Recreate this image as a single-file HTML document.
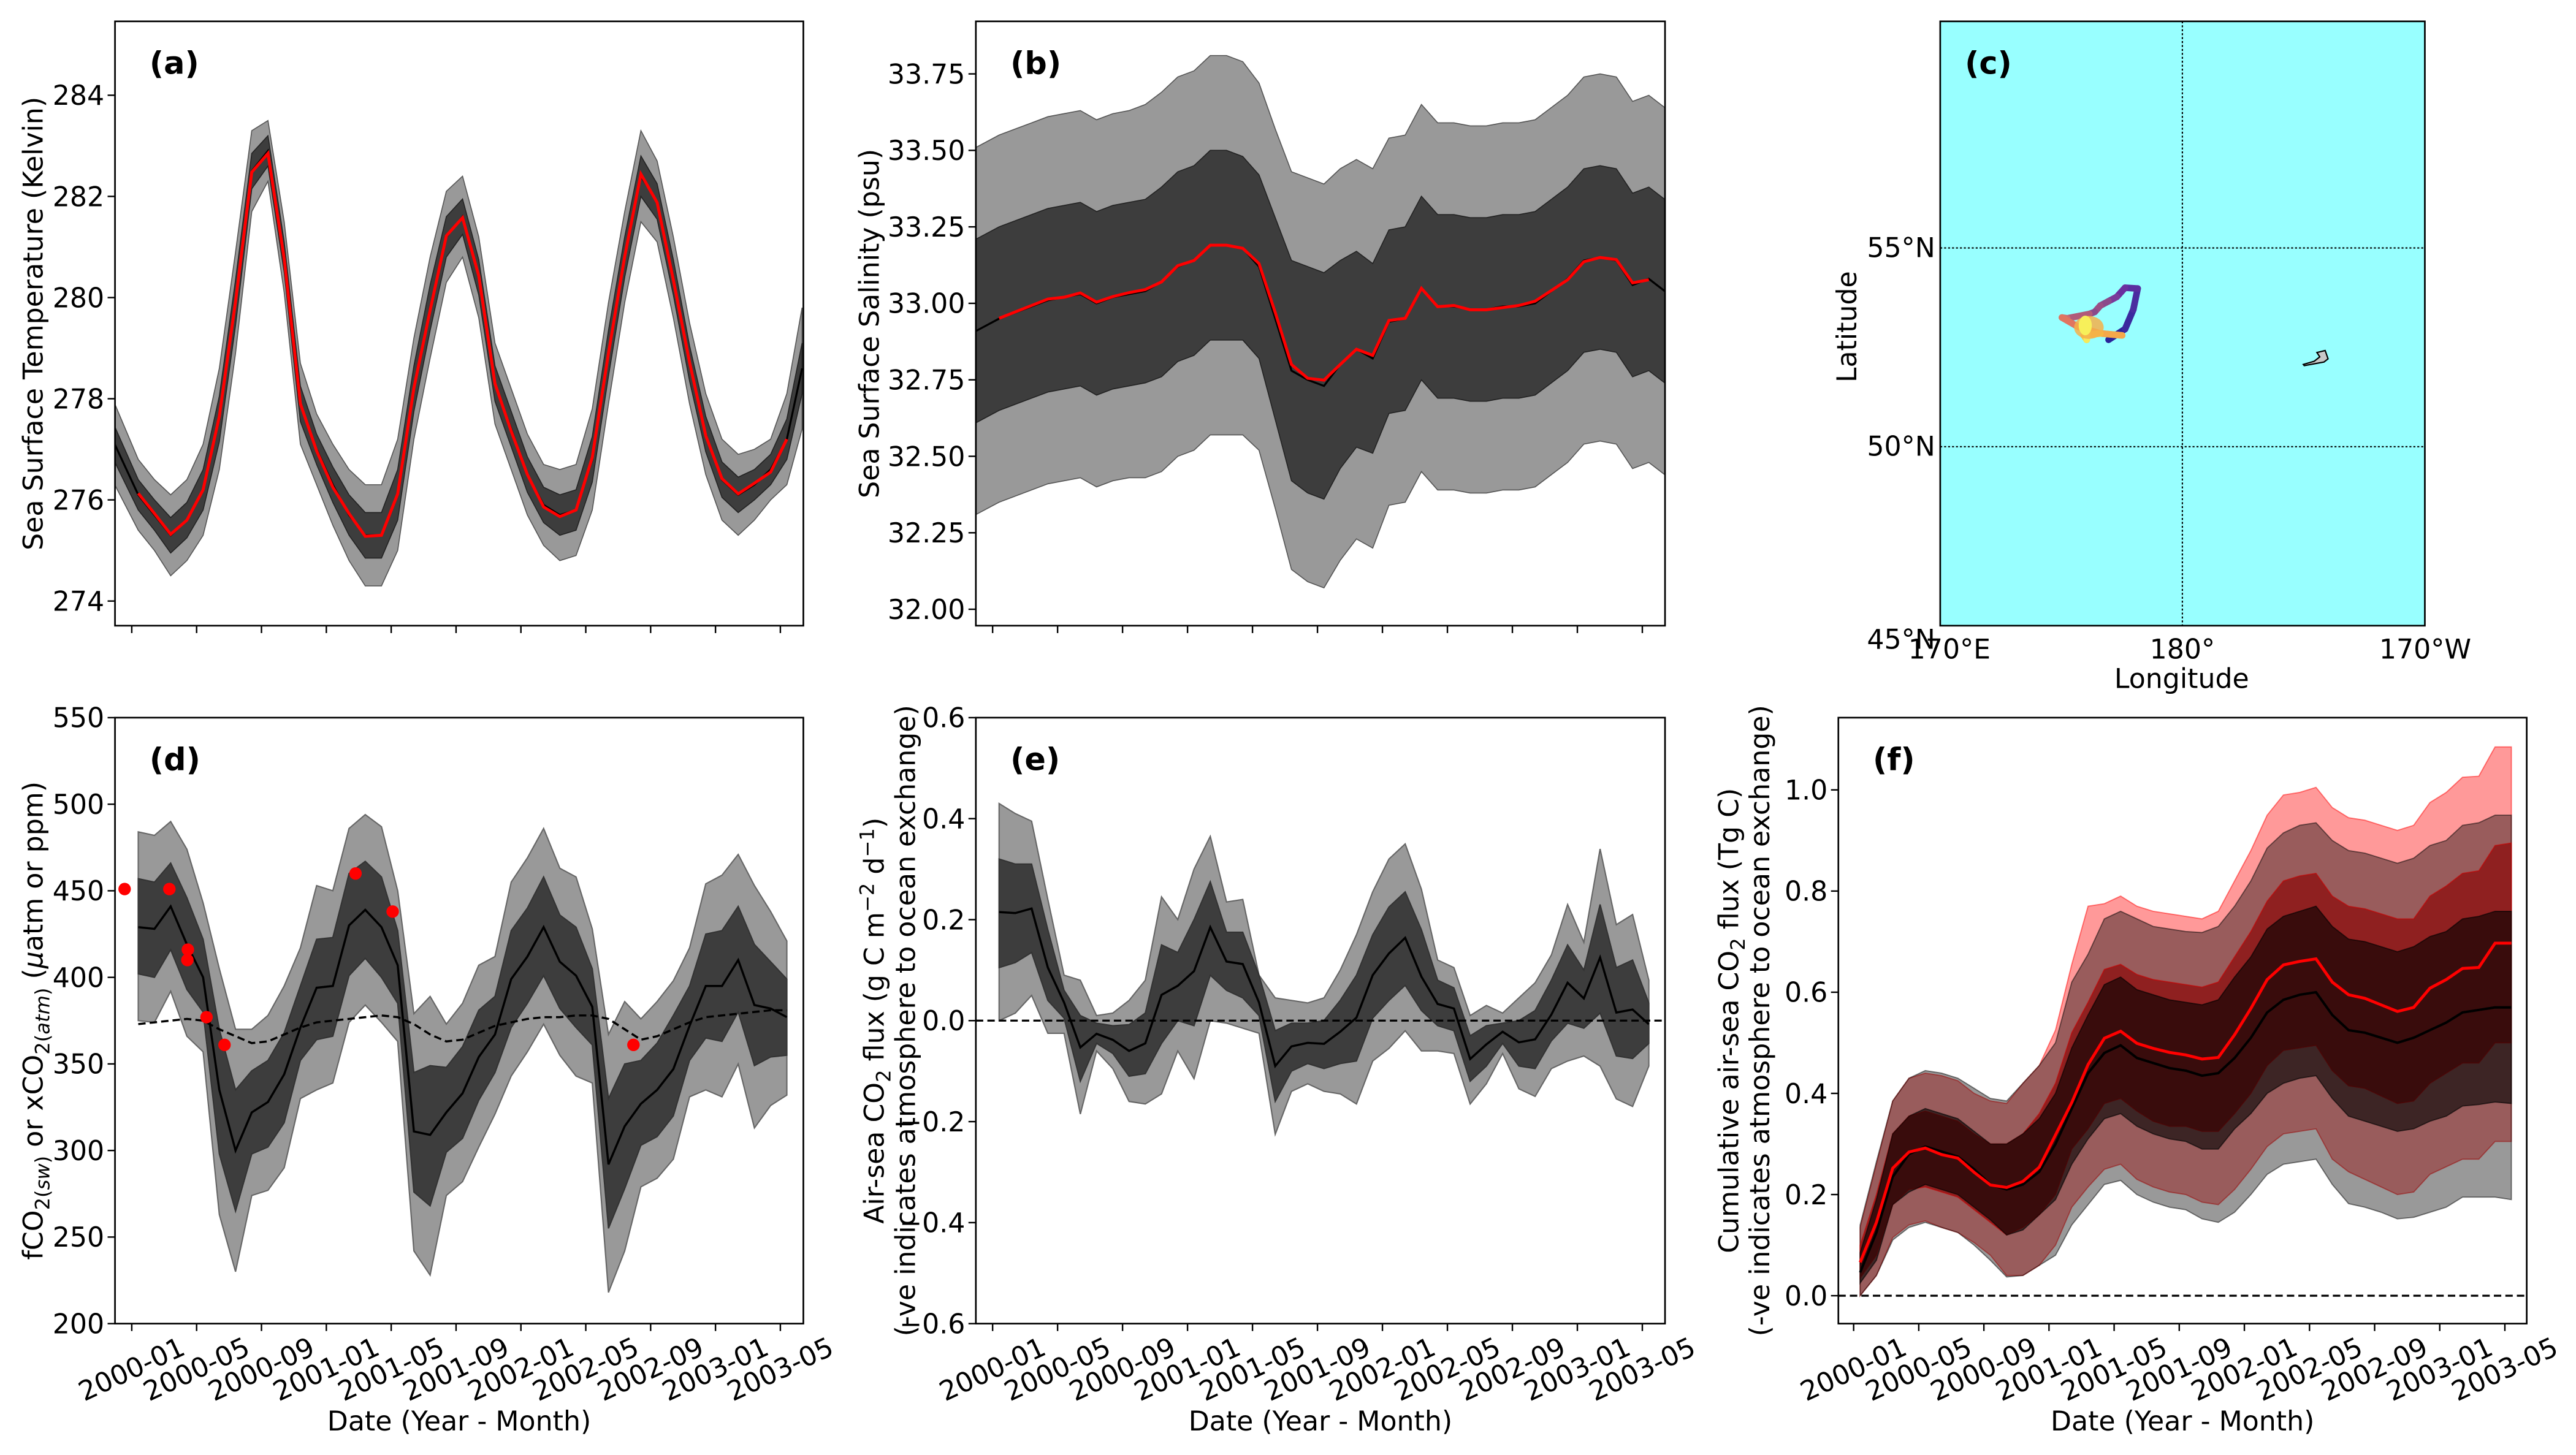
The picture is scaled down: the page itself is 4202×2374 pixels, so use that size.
<!DOCTYPE html>
<html><head><meta charset="utf-8">
<style>
html,body{margin:0;padding:0;background:#fff;}
svg{display:block;}
text{font-family:"DejaVu Sans","Liberation Sans",sans-serif;fill:#000;}
</style></head>
<body>
<svg id="fig" xmlns="http://www.w3.org/2000/svg" width="4202" height="2374" viewBox="0 0 1568 886" preserveAspectRatio="none">
<rect x="0" y="0" width="1568" height="886" fill="#fff"/>
</svg>
<script>
// ---------- DATA ----------
const monthLabels = ["2000-01","2000-05","2000-09","2001-01","2001-05","2001-09","2002-01","2002-05","2002-09","2003-01","2003-05"];
const monthTicks = [0,4,8,12,16,20,24,28,32,36,40];
// panel (a) SST
const sstMonths = [-1.45,0,1,2,3,4,5,6,7,8,9,10,11,12,13,14,15,16,17,18,19,20,21,22,23,24,25,26,27,28,29,30,31,32,33,34,35,36,37,38,39,40,40.94];
const sstCenter = [277.1,276.1,275.7,275.3,275.6,276.2,277.6,279.9,282.5,282.9,280.8,277.9,277.0,276.3,275.7,275.3,275.3,276.1,278.2,279.8,281.2,281.6,280.4,278.3,277.4,276.5,275.9,275.7,275.8,276.8,278.9,280.8,282.4,281.9,280.4,278.7,277.3,276.4,276.1,276.3,276.6,277.2,278.6];
const sstLightHalf = [0.8,0.7,0.7,0.8,0.8,0.9,1.0,1.0,0.8,0.6,0.7,0.8,0.7,0.8,0.9,1.0,1.0,1.1,1.0,1.0,0.9,0.8,0.8,0.8,0.8,0.8,0.8,0.9,0.9,1.0,1.0,0.9,0.9,0.8,0.8,0.8,0.8,0.8,0.8,0.7,0.6,0.9,1.2];
const sstDarkHalf = [0.35,0.3,0.3,0.35,0.35,0.4,0.45,0.45,0.35,0.3,0.3,0.35,0.3,0.35,0.4,0.45,0.45,0.5,0.45,0.45,0.4,0.35,0.35,0.35,0.35,0.35,0.35,0.4,0.4,0.45,0.45,0.4,0.4,0.35,0.35,0.35,0.35,0.35,0.35,0.3,0.3,0.4,0.5];
const sstRed = [276.13,275.73,275.32,275.6,276.2,277.65,279.92,282.48,282.85,280.77,277.9,276.97,276.25,275.73,275.28,275.3,276.12,278.21,279.75,281.22,281.58,280.43,278.3,277.36,276.5,275.86,275.67,275.8,276.84,278.9,280.81,282.44,281.88,280.35,278.72,277.27,276.42,276.12,276.33,276.55,277.2];
// panel (b) SSS
const sssMonths = [-1.41,0,1,2,3,4,5,6,7,8,9,10,11,12,13,14,15,16,17,18,19,20,21,22,23,24,25,26,27,28,29,30,31,32,33,34,35,36,37,38,39,40,40.98];
const sssCenter = [32.91,32.95,32.97,32.99,33.01,33.02,33.03,33.0,33.02,33.03,33.04,33.07,33.12,33.14,33.19,33.19,33.18,33.12,32.95,32.78,32.75,32.73,32.8,32.85,32.82,32.94,32.95,33.05,32.99,32.99,32.98,32.98,32.99,32.99,33.0,33.04,33.08,33.14,33.15,33.14,33.06,33.08,33.04];
const sssLightHalf = [0.6,0.6,0.6,0.6,0.6,0.6,0.6,0.6,0.6,0.6,0.61,0.62,0.62,0.62,0.62,0.62,0.61,0.6,0.62,0.65,0.66,0.66,0.64,0.62,0.62,0.6,0.6,0.6,0.6,0.6,0.6,0.6,0.6,0.6,0.6,0.6,0.6,0.6,0.6,0.6,0.6,0.6,0.6];
const sssDarkHalf = [0.3,0.3,0.3,0.3,0.3,0.3,0.3,0.3,0.3,0.3,0.3,0.31,0.31,0.31,0.31,0.31,0.3,0.3,0.33,0.36,0.37,0.37,0.34,0.32,0.31,0.3,0.3,0.3,0.3,0.3,0.3,0.3,0.3,0.3,0.3,0.3,0.3,0.3,0.3,0.3,0.3,0.3,0.3];
const sssRed = [32.951,32.972,32.993,33.014,33.02,33.034,33.004,33.022,33.035,33.045,33.07,33.123,33.14,33.19,33.19,33.18,33.13,32.97,32.80,32.755,32.749,32.80,32.85,32.83,32.944,32.951,33.049,32.989,32.993,32.979,32.979,32.986,32.993,33.007,33.042,33.077,33.136,33.15,33.143,33.067,33.077];
// panel (d) fCO2
const fco2Mid = [429,428,441,419,400,335,300,322,328,344,371,394,395,430,439,429,407,311,309,322,333,354,367,399,412,429,409,401,383,292,314,327,335,347,372,395,395,410,384,382,377];
const fco2DarkUp = [457,455,466,446,422,370,335,346,352,368,395,422,423,460,467,458,427,345,349,348,360,381,389,427,440,458,436,429,405,330,350,352,362,378,395,425,427,441,419,409,399];
const fco2DarkLo = [402,400,416,393,380,298,265,298,302,316,352,364,366,401,411,400,385,276,268,299,307,329,345,371,385,401,382,371,361,255,278,303,308,320,352,365,363,380,349,354,355];
const fco2LightUp = [484,482,490,474,443,405,370,370,378,395,417,453,450,486,494,487,450,379,389,373,385,407,412,455,469,486,463,458,428,367,386,376,386,398,417,454,459,471,453,438,421];
const fco2LightLo = [375,374,392,366,357,263,230,274,277,290,330,335,339,374,384,374,363,242,228,274,282,302,321,343,357,373,355,343,339,218,242,279,284,295,331,335,331,350,313,326,332];
const xco2Atm = [373,374,375,376,375,370,366,362,363,367,371,374,375,376,377,378,377,373,367,363,364,368,372,374,376,377,377,378,378,376,370,364,366,370,374,377,378,379,380,381,381];
const obsMonth = [-0.84,1.92,3.06,3.03,4.21,5.32,13.4,15.69,30.54];
const obsValue = [451,451,416,410,377,361,460,438,361];
// panel (e) flux
const fluxMid = [0.215,0.213,0.222,0.105,0.036,-0.053,-0.026,-0.038,-0.06,-0.045,0.051,0.069,0.098,0.185,0.117,0.112,0.036,-0.09,-0.051,-0.044,-0.046,-0.022,0.006,0.09,0.133,0.164,0.087,0.033,0.024,-0.076,-0.047,-0.022,-0.043,-0.037,0.012,0.075,0.044,0.125,0.016,0.022,-0.007];
const fluxDarkUp = [0.32,0.31,0.31,0.18,0.06,0.01,-0.005,-0.01,-0.008,0.015,0.15,0.135,0.2,0.275,0.175,0.175,0.09,-0.02,-0.005,-0.005,0,0.04,0.09,0.17,0.225,0.255,0.18,0.08,0.065,-0.03,-0.01,-0.005,0.0,0.02,0.08,0.15,0.1,0.23,0.105,0.12,0.035];
const fluxDarkLo = [0.105,0.115,0.135,0.04,0.005,-0.12,-0.045,-0.065,-0.11,-0.105,-0.045,0.0,-0.01,0.09,0.06,0.045,0.01,-0.16,-0.1,-0.085,-0.095,-0.085,-0.08,0.005,0.04,0.07,0.02,-0.01,-0.02,-0.12,-0.09,-0.045,-0.09,-0.095,-0.04,-0.005,-0.015,0.015,-0.07,-0.075,-0.045];
const fluxLightUp = [0.43,0.41,0.395,0.24,0.09,0.08,0.01,0.015,0.04,0.08,0.245,0.2,0.3,0.365,0.235,0.24,0.09,0.045,0.04,0.035,0.045,0.1,0.17,0.255,0.32,0.35,0.26,0.12,0.105,0.01,0.03,0.015,0.045,0.075,0.13,0.23,0.155,0.34,0.19,0.21,0.08];
const fluxLightLo = [0.0,0.015,0.05,-0.025,-0.025,-0.185,-0.06,-0.095,-0.16,-0.165,-0.145,-0.06,-0.115,0.0,-0.005,-0.015,-0.025,-0.225,-0.14,-0.125,-0.14,-0.145,-0.165,-0.08,-0.055,-0.02,-0.06,-0.06,-0.065,-0.165,-0.125,-0.065,-0.135,-0.15,-0.095,-0.08,-0.07,-0.09,-0.155,-0.17,-0.09];
// panel (f) cumulative flux
const cumRedMid = [0.066,0.145,0.252,0.284,0.292,0.279,0.272,0.244,0.219,0.214,0.226,0.254,0.318,0.382,0.457,0.509,0.523,0.499,0.489,0.481,0.476,0.468,0.471,0.516,0.568,0.625,0.654,0.661,0.666,0.620,0.595,0.588,0.575,0.562,0.570,0.608,0.625,0.647,0.649,0.697,0.697];
const cumBlackMid = [0.046,0.125,0.235,0.28,0.295,0.285,0.275,0.25,0.22,0.21,0.22,0.245,0.30,0.37,0.44,0.48,0.495,0.47,0.46,0.45,0.445,0.435,0.44,0.47,0.51,0.56,0.585,0.595,0.60,0.555,0.525,0.52,0.51,0.50,0.51,0.525,0.54,0.56,0.565,0.57,0.57];
const cumRed1Up = [0.10,0.20,0.32,0.355,0.365,0.355,0.345,0.32,0.30,0.30,0.32,0.36,0.42,0.52,0.58,0.645,0.655,0.635,0.625,0.62,0.615,0.61,0.62,0.67,0.72,0.78,0.82,0.83,0.835,0.79,0.77,0.765,0.755,0.745,0.745,0.79,0.81,0.835,0.84,0.89,0.895];
const cumRed1Lo = [0.035,0.08,0.18,0.21,0.215,0.205,0.195,0.17,0.145,0.12,0.135,0.16,0.20,0.29,0.33,0.38,0.39,0.365,0.345,0.335,0.335,0.325,0.325,0.36,0.40,0.455,0.485,0.49,0.495,0.445,0.415,0.41,0.395,0.38,0.385,0.42,0.44,0.46,0.46,0.50,0.50];
const cumBlk1Up = [0.085,0.19,0.32,0.355,0.37,0.36,0.35,0.325,0.30,0.30,0.32,0.35,0.40,0.49,0.555,0.615,0.63,0.605,0.595,0.585,0.58,0.575,0.585,0.63,0.67,0.725,0.75,0.76,0.77,0.73,0.705,0.70,0.69,0.68,0.69,0.71,0.72,0.745,0.75,0.76,0.76];
const cumBlk1Lo = [0.025,0.07,0.18,0.205,0.22,0.21,0.20,0.175,0.15,0.12,0.13,0.16,0.19,0.26,0.31,0.35,0.36,0.335,0.32,0.31,0.305,0.29,0.29,0.33,0.36,0.40,0.42,0.43,0.435,0.39,0.355,0.345,0.335,0.325,0.33,0.345,0.355,0.375,0.378,0.383,0.38];
const cumRed2Up = [0.135,0.26,0.385,0.43,0.44,0.435,0.425,0.40,0.385,0.38,0.42,0.455,0.525,0.655,0.77,0.775,0.79,0.77,0.76,0.755,0.75,0.745,0.76,0.82,0.88,0.95,0.99,0.995,1.005,0.965,0.945,0.94,0.93,0.92,0.93,0.975,0.995,1.025,1.027,1.085,1.085];
const cumRed2Lo = [0.0,0.04,0.115,0.14,0.148,0.135,0.125,0.105,0.08,0.04,0.04,0.06,0.10,0.175,0.215,0.25,0.26,0.23,0.215,0.205,0.20,0.185,0.18,0.21,0.25,0.295,0.32,0.325,0.33,0.27,0.245,0.23,0.215,0.20,0.205,0.24,0.255,0.27,0.27,0.305,0.305];
const cumBlk2Up = [0.14,0.265,0.385,0.43,0.445,0.44,0.43,0.41,0.39,0.385,0.42,0.455,0.50,0.62,0.675,0.745,0.76,0.745,0.73,0.725,0.72,0.718,0.73,0.77,0.82,0.885,0.915,0.93,0.935,0.90,0.88,0.875,0.865,0.855,0.865,0.89,0.90,0.93,0.935,0.95,0.95];
const cumBlk2Lo = [0.0,0.04,0.11,0.135,0.145,0.135,0.125,0.10,0.07,0.037,0.04,0.06,0.08,0.14,0.18,0.22,0.228,0.20,0.185,0.175,0.17,0.152,0.145,0.165,0.20,0.24,0.26,0.265,0.27,0.22,0.182,0.175,0.165,0.152,0.155,0.165,0.175,0.195,0.195,0.195,0.19];
// panel (c) map
const trackLon = [176.96,177.64,177.98,178.16,177.64,177.30,176.96,176.62,176.39,176.17,175.26,175.04,175.72,176.62,177.52,176.62,175.94,176.06,176.10,176.06];
const trackLat = [52.69,52.96,53.45,53.98,54.0,53.77,53.66,53.55,53.39,53.34,53.23,53.25,53.01,52.85,52.80,52.85,52.80,52.69,53.2,52.69];
const islandLon = [184.98,185.43,185.66,185.54,185.88,186.0,185.83,185.02];
const islandLat = [52.07,52.15,52.26,52.37,52.42,52.21,52.13,52.04];
const latTicks = [45,50,55];
const lonTicks = [170,180,190];
const lonLabels = ["170°E","180°","170°W"];

// ---------- helpers ----------
const NS = "http://www.w3.org/2000/svg";
const svg = document.getElementById('fig');
function mk(tag, attrs, parent){
  const e = document.createElementNS(NS, tag);
  for (const k in attrs) e.setAttribute(k, attrs[k]);
  (parent||svg).appendChild(e);
  return e;
}
function mkText(str, attrs, parent){ const t = mk('text', attrs, parent); t.textContent = str; return t; }
function ptsStr(xs, ys){ return xs.map((x,i)=>x.toFixed(2)+','+ys[i].toFixed(2)).join(' '); }
function bandPts(months, up, lo, X, Y){
  const a = months.map((m,i)=>X(m).toFixed(2)+','+Y(up[i]).toFixed(2));
  const b = months.map((m,i)=>X(m).toFixed(2)+','+Y(lo[i]).toFixed(2)).reverse();
  return a.concat(b).join(' ');
}
const idx41 = fco2Mid.map((_,i)=>i);
const TICK_FS = 16.5, TITLE_FS = 16.5;

function makeAxes(name, x0, x1, y0, y1, tick0, perMonth, yMin, yMax, yPx0, yPx1){
  const g = mk('g', {});
  
  
  const X = m => tick0 + perMonth*m;
  const Y = v => yPx0 + (v - yMin)/(yMax - yMin)*(yPx1 - yPx0);
  return {g, X, Y, x0, x1, y0, y1};
}
function frame(ax){
  const r = mk('rect', {x:ax.x0, y:ax.y0, width:ax.x1-ax.x0, height:ax.y1-ax.y0, fill:'none', stroke:'#000', 'stroke-width':1}, ax.g);
  
  
}
function clip(ax, id){
  const cp = mk('clipPath', {id:id}, ax.g);
  mk('rect', {x:ax.x0, y:ax.y0, width:ax.x1-ax.x0, height:ax.y1-ax.y0}, cp);
  const g = mk('g', {'clip-path':'url(#'+id+')'}, ax.g);
  
  
  return g;
}
function yTicks(ax, vals, fmt){
  vals.forEach(v=>{
    const y = ax.Y(v);
    mk('line', {x1:ax.x0-4.5, x2:ax.x0, y1:y, y2:y, stroke:'#000', 'stroke-width':0.9}, ax.g);
    const t = mkText(fmt(v), {x:ax.x0-6.5, y:y+5.9, 'font-size':TICK_FS, 'text-anchor':'end'}, ax.g);
    
    
  });
}
function xTicks(ax, withLabels){
  monthTicks.forEach((m,i)=>{
    const x = ax.X(m);
    mk('line', {x1:x, x2:x, y1:ax.y1, y2:ax.y1+4.5, stroke:'#000', 'stroke-width':0.9}, ax.g);
    if (withLabels){
      const tx = x, ty = ax.y1+28;
      const t = mkText(monthLabels[i], {x:tx, y:ty, 'font-size':TICK_FS, 'text-anchor':'middle', 'dominant-baseline':'central', transform:'rotate(-25 '+tx+' '+ty+')'}, ax.g);
      
      
    }
  });
  if (withLabels){
    const t = mkText('Date (Year - Month)', {x:(ax.x0+ax.x1)/2, y:871, 'font-size':TITLE_FS, 'text-anchor':'middle'}, ax.g);
    
    
  }
}
function panelLabel(ax, s){
  const t = mkText(s, {x:ax.x0+21, y:ax.y0+32, 'font-size':19, 'font-weight':'bold'}, ax.g);
  
  
}
function yTitle(ax, x, lines){
  const cy = (ax.y0+ax.y1)/2;
  lines.forEach((ln,i)=>{
    const t = mk('text', {x:x+i*19, y:cy, 'font-size':TITLE_FS, 'text-anchor':'middle', transform:'rotate(-90 '+(x+i*19)+' '+cy+')'}, ax.g);
    t.innerHTML = ln;
    
    
  });
}

// ---------- Panel (a) ----------
(function(){
  const ax = makeAxes('panel-a-sst', 70, 489, 13, 381, 80.2, 9.87, 274, 284, 366, 58);
  const p = clip(ax, 'ca');
  const X = m => ax.X(m+0.4);
  const lu = sstCenter.map((c,i)=>c+sstLightHalf[i]), ll = sstCenter.map((c,i)=>c-sstLightHalf[i]);
  const du = sstCenter.map((c,i)=>c+sstDarkHalf[i]), dl = sstCenter.map((c,i)=>c-sstDarkHalf[i]);
  const b1 = mk('polygon', {points:bandPts(sstMonths, lu, ll, X, ax.Y), fill:'#999', stroke:'#555', 'stroke-width':0.6}, p);
  
  
  const b2 = mk('polygon', {points:bandPts(sstMonths, du, dl, X, ax.Y), fill:'#3d3d3d', stroke:'#222', 'stroke-width':0.6}, p);
  
  
  const c = mk('polyline', {points:ptsStr(sstMonths.map(X), sstCenter.map(ax.Y)), fill:'none', stroke:'#000', 'stroke-width':1.2}, p);
  
  
  const r = mk('polyline', {points:ptsStr(idx41.map(X), sstRed.map(ax.Y)), fill:'none', stroke:'#ff0000', 'stroke-width':1.8}, p);
  
  
  frame(ax);
  yTicks(ax, [274,276,278,280,282,284], v=>String(v));
  xTicks(ax, false);
  panelLabel(ax, '(a)');
  yTitle(ax, 26, ['Sea Surface Temperature (Kelvin)']);
})();

// ---------- Panel (b) ----------
(function(){
  const ax = makeAxes('panel-b-sss', 594, 1013.5, 13, 381, 604.2, 9.887, 32, 33.75, 371, 45);
  const p = clip(ax, 'cb');
  const X = m => ax.X(m+0.4);
  const lu = sssCenter.map((c,i)=>c+sssLightHalf[i]), ll = sssCenter.map((c,i)=>c-sssLightHalf[i]);
  const du = sssCenter.map((c,i)=>c+sssDarkHalf[i]), dl = sssCenter.map((c,i)=>c-sssDarkHalf[i]);
  const b1 = mk('polygon', {points:bandPts(sssMonths, lu, ll, X, ax.Y), fill:'#999', stroke:'#555', 'stroke-width':0.6}, p);
  
  
  const b2 = mk('polygon', {points:bandPts(sssMonths, du, dl, X, ax.Y), fill:'#3d3d3d', stroke:'#222', 'stroke-width':0.6}, p);
  
  
  const c = mk('polyline', {points:ptsStr(sssMonths.map(X), sssCenter.map(ax.Y)), fill:'none', stroke:'#000', 'stroke-width':1.2}, p);
  
  
  const r = mk('polyline', {points:ptsStr(idx41.map(X), sssRed.map(ax.Y)), fill:'none', stroke:'#ff0000', 'stroke-width':1.8}, p);
  
  
  frame(ax);
  yTicks(ax, [32,32.25,32.5,32.75,33,33.25,33.5,33.75], v=>v.toFixed(2));
  xTicks(ax, false);
  panelLabel(ax, '(b)');
  yTitle(ax, 535, ['Sea Surface Salinity (psu)']);
})();

// ---------- Panel (c) map ----------
(function(){
  const g = mk('g', {});
  
  
  const x0=1181, x1=1476, y0=13, y1=381;
  const LX = lon => 1180.6 + (lon-170)*14.78;
  const LY = lat => 151 - (lat-55)*24.2;
  const bg = mk('rect', {x:x0, y:y0, width:x1-x0, height:y1-y0, fill:'#98ffff'}, g);
  
  
  [50,55].forEach(lat=>{
    const l = mk('line', {x1:x0, x2:x1, y1:LY(lat), y2:LY(lat), stroke:'#000', 'stroke-width':0.8, 'stroke-dasharray':'1.2,1.2'}, g);
    
    
  });
  const vl = mk('line', {x1:LX(180), x2:LX(180), y1:y0, y2:y1, stroke:'#000', 'stroke-width':0.8, 'stroke-dasharray':'1.2,1.2'}, g);
  
  
  const isl = mk('polygon', {points:ptsStr(islandLon.map(LX), islandLat.map(LY)), fill:'#c8c8c8', stroke:'#000', 'stroke-width':0.8}, g);
  
  
  const cmap = ['#2a2399','#3b2a9e','#4a2da0','#5a2ea0','#6a2f9f','#7a3a9a','#8b4a8b','#9a4f86','#8a4a8a','#b05b7a','#ce6a70','#e07560','#ea8055','#f0955a','#f5a84a','#f7b840','#f9c840','#fad84c','#f5ea5a','#f0f060'];
  for (let i=0;i<trackLon.length-1;i++){
    const s = mk('line', {x1:LX(trackLon[i]), y1:LY(trackLat[i]), x2:LX(trackLon[i+1]), y2:LY(trackLat[i+1]), stroke:cmap[i], 'stroke-width':4, 'stroke-linecap':'round'}, g);
    
    
  }
  const blob = mk('ellipse', {cx:LX(176.15), cy:LY(53.0), rx:9, ry:7, fill:'#f4b04a', opacity:0.85}, g);
  
  
  const yb = mk('ellipse', {cx:LX(176.0), cy:LY(53.05), rx:4, ry:6, fill:'#f7f05a'}, g);
  
  
  const fr = mk('rect', {x:x0, y:y0, width:x1-x0, height:y1-y0, fill:'none', stroke:'#000', 'stroke-width':1}, g);
  
  
  latTicks.forEach(lat=>{
    const t = mkText(lat+'°N', {x:x0-3, y:LY(lat)+(lat===45?2:5.5), 'font-size':TICK_FS, 'text-anchor':'end'}, g);
    
    
  });
  lonTicks.forEach((lon,i)=>{
    const t = mkText(lonLabels[i], {x:LX(lon)+(i===0?6:0), y:401, 'font-size':TICK_FS, 'text-anchor':'middle'}, g);
    
    
  });
  const xt = mkText('Longitude', {x:1328, y:419, 'font-size':TITLE_FS, 'text-anchor':'middle'}, g);
  
  
  const yt = mkText('Latitude', {x:1130, y:199, 'font-size':TITLE_FS, 'text-anchor':'middle', transform:'rotate(-90 1130 199)'}, g);
  
  
  const pl = mkText('(c)', {x:1196, y:45, 'font-size':19, 'font-weight':'bold'}, g);
  
  
})();

// ---------- Panel (d) ----------
(function(){
  const ax = makeAxes('panel-d-fco2', 70, 489, 437, 806, 80.2, 9.87, 200, 550, 806, 437);
  const p = clip(ax, 'cd');
  const X = m => ax.X(m+0.4);
  const b1 = mk('polygon', {points:bandPts(idx41, fco2LightUp, fco2LightLo, X, ax.Y), fill:'#999', stroke:'#666', 'stroke-width':0.8}, p);
  
  
  const b2 = mk('polygon', {points:bandPts(idx41, fco2DarkUp, fco2DarkLo, X, ax.Y), fill:'#3d3d3d', stroke:'#333', 'stroke-width':0.8}, p);
  
  
  const c = mk('polyline', {points:ptsStr(idx41.map(X), fco2Mid.map(ax.Y)), fill:'none', stroke:'#000', 'stroke-width':1.3}, p);
  
  
  const d = mk('polyline', {points:ptsStr(idx41.map(X), xco2Atm.map(ax.Y)), fill:'none', stroke:'#000', 'stroke-width':1.3, 'stroke-dasharray':'4.5,2.5'}, p);
  
  
  obsMonth.forEach((m,i)=>{
    const o = mk('circle', {cx:X(m), cy:ax.Y(obsValue[i]), r:3.8, fill:'#ff0000'}, ax.g);
    
    
  });
  frame(ax);
  yTicks(ax, [200,250,300,350,400,450,500,550], v=>String(v));
  xTicks(ax, true);
  panelLabel(ax, '(d)');
  yTitle(ax, 26, ['fCO<tspan font-size="12" dy="4">2(<tspan font-style="italic">sw</tspan>)</tspan><tspan dy="-4"> or xCO</tspan><tspan font-size="12" dy="4">2(<tspan font-style="italic">atm</tspan>)</tspan><tspan dy="-4"> (</tspan><tspan font-style="italic">μ</tspan>atm or ppm)']);
})();

// ---------- Panel (e) ----------
(function(){
  const ax = makeAxes('panel-e-flux', 594, 1013.5, 437, 806, 604.2, 9.887, -0.6, 0.6, 806, 437);
  const p = clip(ax, 'ce');
  const X = m => ax.X(m+0.4);
  const b1 = mk('polygon', {points:bandPts(idx41, fluxLightUp, fluxLightLo, X, ax.Y), fill:'#999', stroke:'#666', 'stroke-width':0.8}, p);
  
  
  const b2 = mk('polygon', {points:bandPts(idx41, fluxDarkUp, fluxDarkLo, X, ax.Y), fill:'#3d3d3d', stroke:'#333', 'stroke-width':0.8}, p);
  
  
  const c = mk('polyline', {points:ptsStr(idx41.map(X), fluxMid.map(ax.Y)), fill:'none', stroke:'#000', 'stroke-width':1.3}, p);
  
  
  const z = mk('line', {x1:ax.x0, x2:ax.x1, y1:ax.Y(0), y2:ax.Y(0), stroke:'#000', 'stroke-width':1.2, 'stroke-dasharray':'4.5,2.5'}, p);
  
  
  frame(ax);
  yTicks(ax, [-0.6,-0.4,-0.2,0,0.2,0.4,0.6], v=>(v<0?'−':'')+Math.abs(v).toFixed(1));
  xTicks(ax, true);
  panelLabel(ax, '(e)');
  yTitle(ax, 538, ['Air-sea CO<tspan font-size="12" dy="4">2</tspan><tspan dy="-4"> flux (g C m</tspan><tspan font-size="12" dy="-6">−2</tspan><tspan dy="6"> d</tspan><tspan font-size="12" dy="-6">−1</tspan><tspan dy="6">)</tspan>', '(-ve indicates atmosphere to ocean exchange)']);
})();

// ---------- Panel (f) ----------
(function(){
  const ax = makeAxes('panel-f-cumulative', 1119, 1538, 437, 806, 1128.3, 9.91, 0, 1.0, 789, 481);
  const p = clip(ax, 'cf');
  const X = m => ax.X(m+0.4);
  const bands = [
    ['cum-red-2sigma-band', cumRed2Up, cumRed2Lo, 'rgba(255,0,0,0.4)', 'rgba(255,0,0,0.5)'],
    ['cum-black-2sigma-band', cumBlk2Up, cumBlk2Lo, 'rgba(0,0,0,0.4)', 'rgba(0,0,0,0.5)'],
    ['cum-red-1sigma-band', cumRed1Up, cumRed1Lo, 'rgba(139,0,0,0.65)', 'rgba(200,0,0,0.6)'],
    ['cum-black-1sigma-band', cumBlk1Up, cumBlk1Lo, 'rgba(0,0,0,0.6)', 'rgba(0,0,0,0.6)']
  ];
  bands.forEach(b=>{
    const e = mk('polygon', {points:bandPts(idx41, b[1], b[2], X, ax.Y), fill:b[3], stroke:b[4], 'stroke-width':0.7}, p);
    
    
  });
  const c = mk('polyline', {points:ptsStr(idx41.map(X), cumBlackMid.map(ax.Y)), fill:'none', stroke:'#000', 'stroke-width':1.5}, p);
  
  
  const r = mk('polyline', {points:ptsStr(idx41.map(X), cumRedMid.map(ax.Y)), fill:'none', stroke:'#ff0000', 'stroke-width':1.8}, p);
  
  
  const z = mk('line', {x1:ax.x0, x2:ax.x1, y1:ax.Y(0), y2:ax.Y(0), stroke:'#000', 'stroke-width':1.2, 'stroke-dasharray':'4.5,2.5'}, p);
  
  
  frame(ax);
  yTicks(ax, [0,0.2,0.4,0.6,0.8,1.0], v=>v.toFixed(1));
  xTicks(ax, true);
  panelLabel(ax, '(f)');
  yTitle(ax, 1058, ['Cumulative air-sea CO<tspan font-size="12" dy="4">2</tspan><tspan dy="-4"> flux (Tg C)</tspan>', '(-ve indicates atmosphere to ocean exchange)']);
})();
</script>
</body></html>
